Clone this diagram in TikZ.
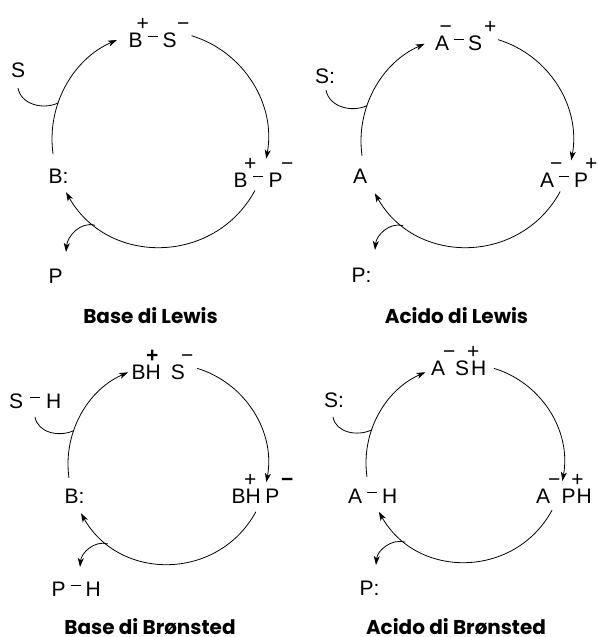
\documentclass[tikz,border=0pt]{standalone}
\usepackage{fontspec}
\setmainfont{Liberation Sans}
\newfontfamily\ttlfont{Poppins}
\usetikzlibrary{arrows.meta,calc}
% charge above the formula, bond dash between atoms
\newcommand\chg[2][0pt]{\rlap{\kern#1\makebox[0pt]{\raisebox{16.5pt}{#2}}}}
\newcommand\bnd[1][5pt]{\kern#1\rule[10pt]{10pt}{1.1pt}\kern#1}

\begin{document}
\begin{tikzpicture}[
  x=1pt,y=1pt,
  every node/.style={font=\fontsize{21}{25}\selectfont,inner sep=0pt},
  lbl/.style={anchor=base west},
  ttl/.style={anchor=base,font=\ttlfont\bfseries\fontsize{20}{24}\selectfont},
  cyc/.style={line width=0.8pt,-{Stealth[length=9pt,width=6pt,inset=2.5pt]}},
  feed/.style={line width=0.8pt}
]
\useasboundingbox (0,0) rectangle (598,-637);

% points on the four cycles and their arcs
\foreach \i/\cx/\cy/\rad in {1/160/-139/108,2/467/-141/106,3/168/-464/100,4/465/-463/99}{
  \coordinate (o\i) at (\cx,\cy);
  \coordinate (a\i) at ($(o\i)+(73:\rad)$);
  \coordinate (b\i) at ($(o\i)+(-10.5:\rad)$);
  \coordinate (c\i) at ($(o\i)+(-28.5:\rad)$);
  \coordinate (d\i) at ($(o\i)+(209.5:\rad)$);
  \coordinate (e\i) at ($(o\i)+(188:\rad)$);
  \coordinate (f\i) at ($(o\i)+(113.5:\rad)$);
  \coordinate (j\i) at ($(o\i)+(160.5:\rad)$);
  \coordinate (x\i) at ($(o\i)+(233:\rad)$);
  \draw[cyc] (a\i) to[bend left=41.75,looseness=0.975] (b\i);
  \draw[cyc] (c\i) to[bend left=61,looseness=1.147] (d\i);
  \draw[cyc] (e\i) to[bend left=37.25,looseness=0.948] (f\i);
}

% Base di Lewis
\node[lbl] (sub1) at (11,-77) {S};
\node[lbl] (top1) at (128.5,-47) {B\chg{+}\bnd S\chg[6.5pt]{−}};
\node[lbl] (rgt1) at (233.5,-187) {B\chg[2.5pt]{+}\bnd[5.5pt]P\chg[4.5pt]{−}};
\node[lbl] (cat1) at (48.5,-183) {B:};
\node[lbl] (prd1) at (48.5,-283) {P};
\node[ttl] (ttl1) at (150.5,-323) {Base di Lewis};
\coordinate (h1) at (18,-88);
\coordinate (p1) at (66,-252);
\draw[feed] (h1) to[out=-80,in=205] (j1);
\draw[cyc] (x1) to[out=165,in=85] (p1);

% Acido di Lewis
\node[lbl] (sub2) at (315,-83) {S:};
\node[lbl] (top2) at (435,-50) {A\chg[-3.5pt]{−}\bnd[4.5pt]S\chg[8pt]{+}};
\node[lbl] (rgt2) at (540,-187) {A\chg[2pt]{−}\bnd P\chg[3pt]{+}};
\node[lbl] (cat2) at (353,-183) {A};
\node[lbl] (prd2) at (351.5,-282) {P:};
\node[ttl] (ttl2) at (456.5,-323) {Acido di Lewis};
\coordinate (h2) at (326,-90);
\coordinate (p2) at (375,-250);
\draw[feed] (h2) to[out=-80,in=205] (j2);
\draw[cyc] (x2) to[out=165,in=85] (p2);

% Base di Brønsted
\node[lbl] (sub3) at (9,-408) {S\bnd[6.5pt]H};
\node[lbl] (top3) at (131.5,-379) {B\chg[6.5pt]{\textbf{+}}H\kern10pt S\chg[2.3pt]{−}};
\node[lbl] (rgt3) at (231.5,-503) {B\chg[4.5pt]{+}H\kern4.6pt P\chg[7.7pt]{\textbf{−}}};
\node[lbl] (cat3) at (64.5,-503) {B:};
\node[lbl] (prd3) at (51.3,-596) {P\bnd H};
\node[ttl] (ttl3) at (150,-634) {Base di Brønsted};
\coordinate (h3) at (35,-417);
\coordinate (p3) at (80,-567);
\draw[feed] (h3) to[out=-80,in=205] (j3);
\draw[cyc] (x3) to[out=165,in=85] (p3);

% Acido di Brønsted
\node[lbl] (sub4) at (324,-407) {S:};
\node[lbl] (top4) at (431,-375) {A\chg[4pt]{−}\kern10pt S\kern2pt\chg[2pt]{+}H};
\node[lbl] (rgt4) at (536,-503) {A\chg[4pt]{−}\kern11.3pt P\kern1pt\chg[1pt]{+}H};
\node[lbl] (cat4) at (348,-503) {A\bnd H};
\node[lbl] (prd4) at (359.3,-595) {P:};
\node[ttl] (ttl4) at (456,-634) {Acido di Brønsted};
\coordinate (h4) at (333,-417);
\coordinate (p4) at (376,-565);
\draw[feed] (h4) to[out=-80,in=205] (j4);
\draw[cyc] (x4) to[out=165,in=85] (p4);
\end{tikzpicture}
\end{document}
